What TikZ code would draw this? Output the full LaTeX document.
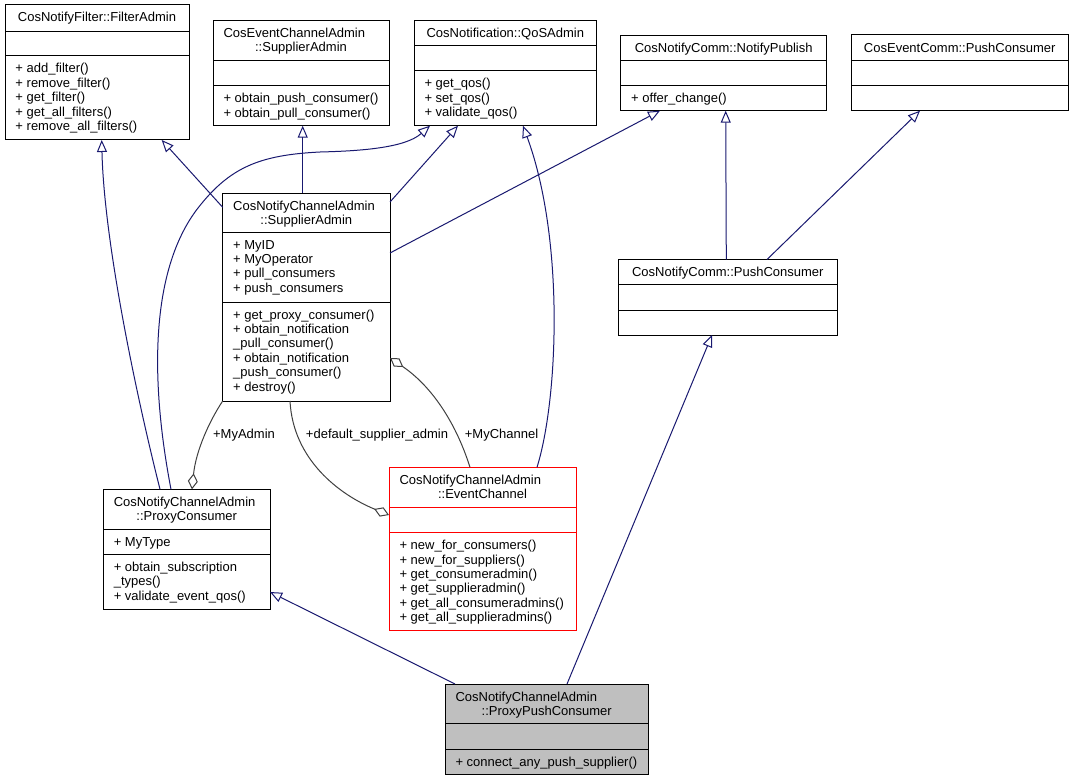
\documentclass[tikz,border=0pt]{standalone}
\usepackage{fontspec}
\setmainfont{Liberation Sans}
\usetikzlibrary{arrows.meta,calc}
\definecolor{inhcol}{HTML}{191970}
\definecolor{aggcol}{HTML}{404040}
\definecolor{selcol}{HTML}{BFBFBF}
\tikzset{
  cls/.style={draw, fill=white, line width=1pt, inner sep=0pt, outer sep=0pt},
  sepline/.style={line width=1pt},
  txt/.style={inner sep=0pt, outer sep=0pt, font=\fontsize{13}{14.4}\selectfont},
  inh/.style={draw=inhcol, line width=1pt, -{Triangle[open,length=12pt,width=10pt]}},
  agg/.style={draw=aggcol, line width=1pt, -{Diamond[open,length=16pt,width=10pt]}}
}
% #1 node opts, #2 name, #3 x1, #4 y1, #5 x2, #6 y2, #7 sep1, #8 sep2, #9 line colour
\newcommand\clsbox[9][]{%
  \node[cls,draw=#9,#1,minimum width={#5-#3},minimum height={#6-#4}] (#2) at ({(#3+#5)/2},{(#4+#6)/2}) {};
  \draw[sepline,draw=#9] (#2.west |- 0,#7) -- (#2.east |- 0,#7);
  \draw[sepline,draw=#9] (#2.west |- 0,#8) -- (#2.east |- 0,#8);
}
% #1 prefix, #2 x, #3 first baseline, #4 items
\newcommand\clsitems[4]{%
  \foreach \m [count=\i] in {#4} {\node[txt,anchor=base west] (#1-\i) at (#2,{#3+14.4*(\i-1)}) {\m};}
}
\begin{document}
\begin{tikzpicture}[x=1pt,y=-1pt]
\fill[white] (0,0) rectangle (1073,781);
\useasboundingbox (0,0) rectangle (1073,781);

% ---------- classes ----------
\clsbox{fa}{5}{5}{189}{140}{31.7}{56}{black}
\node[txt,anchor=base] (fa-t) at (97,22) {CosNotifyFilter::FilterAdmin};
\clsitems{fam}{15.5}{73}{+ add\_filter(), + remove\_filter(), + get\_filter(), + get\_all\_filters(), + remove\_all\_filters()}

\clsbox{cesa}{213}{20.7}{389}{125.7}{60.7}{85.7}{black}
\node[txt,anchor=base west] (cesa-t1) at (223.5,37.7) {CosEventChannelAdmin};
\node[txt,anchor=base] (cesa-t2) at (301,52) {::SupplierAdmin};
\clsitems{cesam}{223.5}{102.7}{+ obtain\_push\_consumer(), + obtain\_pull\_consumer()}

\clsbox{qos}{414}{20.7}{596.7}{125.7}{45.7}{70.7}{black}
\node[txt,anchor=base] (qos-t) at (505.3,37.7) {CosNotification::QoSAdmin};
\clsitems{qosm}{424.5}{87.7}{+ get\_qos(), + set\_qos(), + validate\_qos()}

\clsbox{np}{620.7}{35.7}{826.7}{110.7}{60.7}{85.7}{black}
\node[txt,anchor=base] (np-t) at (723.7,52.7) {CosNotifyComm::NotifyPublish};
\clsitems{npm}{631.2}{102.7}{+ offer\_change()}

\clsbox{cpc}{851}{35}{1068.3}{110.7}{60.7}{85.7}{black}
\node[txt,anchor=base] (cpc-t) at (959.7,52.5) {CosEventComm::PushConsumer};

\clsbox{sa}{222.7}{193}{390}{401}{232}{302}{black}
\node[txt,anchor=base west] (sa-t1) at (233.2,210) {CosNotifyChannelAdmin};
\node[txt,anchor=base] (sa-t2) at (306.3,224.4) {::SupplierAdmin};
\clsitems{saa}{233.2}{249}{+ MyID, + MyOperator, + pull\_consumers, + push\_consumers}
\clsitems{sam}{233.2}{319}{+ get\_proxy\_consumer(), + obtain\_notification, \_pull\_consumer(), + obtain\_notification, \_push\_consumer(), + destroy()}

\clsbox{npc}{618.3}{259.5}{837.3}{335}{284.3}{310}{black}
\node[txt,anchor=base] (npc-t) at (727.8,276.5) {CosNotifyComm::PushConsumer};

\clsbox{pc}{103.3}{489.3}{270}{609}{529}{554.3}{black}
\node[txt,anchor=base west] (pc-t1) at (113.8,506.3) {CosNotifyChannelAdmin};
\node[txt,anchor=base] (pc-t2) at (186.7,520.7) {::ProxyConsumer};
\clsitems{pca}{113.8}{546}{+ MyType}
\clsitems{pcm}{113.8}{571.3}{+ obtain\_subscription, \_types(), + validate\_event\_qos()}

\clsbox{ec}{389}{467.3}{576}{630.7}{507.3}{532.7}{red}
\node[txt,anchor=base west] (ec-t1) at (399.5,484.3) {CosNotifyChannelAdmin};
\node[txt,anchor=base] (ec-t2) at (482.5,498.7) {::EventChannel};
\clsitems{ecm}{399.5}{549.7}{+ new\_for\_consumers(), + new\_for\_suppliers(), + get\_consumeradmin(), + get\_supplieradmin(), + get\_all\_consumeradmins(), + get\_all\_supplieradmins()}

\clsbox[fill=selcol]{ppc}{445}{684}{648.3}{774.3}{723.3}{749}{black}
\node[txt,anchor=base west] (ppc-t1) at (455.5,701) {CosNotifyChannelAdmin};
\node[txt,anchor=base] (ppc-t2) at (546.7,715.4) {::ProxyPushConsumer};
\clsitems{ppcm}{455.5}{766}{+ connect\_any\_push\_supplier()}

% ---------- inheritance ----------
\draw[inh] ($(sa.north west)+(0,14.3)$) -- ($(fa.south west)+(156.7,0)$);
\draw[inh] ($(sa.north west)+(80,0)$) -- ($(cesa.south west)+(89.7,0)$);
\draw[inh] ($(sa.north east)+(0,9)$) -- ($(qos.south west)+(44,0)$);
\draw[inh] ($(sa.north east)+(0,60)$) -- ($(np.south west)+(39.3,0)$);
\draw[inh] ($(pc.north west)+(56.7,0)$) .. controls (135,390) and (104,240) .. ($(fa.south west)+(96.7,0)$);
\draw[inh] ($(pc.north west)+(67.7,0)$) .. controls (150,380) and (150,270) .. (198,208)
   .. controls (230,167) and (260,155) .. (320,152)
   .. controls (360,151) and (405,148) .. ($(qos.south west)+(16,0)$);
\draw[inh] ($(ec.north west)+(148,0)$) .. controls (558,400) and (565,240) .. ($(qos.south west)+(109,0)$);
\draw[inh] ($(npc.north west)+(108,0)$) -- ($(np.south west)+(105,0)$);
\draw[inh] ($(npc.north west)+(148.7,0)$) -- ($(cpc.south west)+(69,0)$);
\draw[inh] ($(ppc.north west)+(10,0)$) -- ($(pc.south east)+(0,-17)$);
\draw[inh] ($(ppc.north west)+(122,0)$) -- ($(npc.south west)+(93.7,0)$);

% ---------- aggregation ----------
\draw[agg] (sa.south west) .. controls (210,420) and (196,450) .. ($(pc.north west)+(88.7,0)$);
\draw[agg] ($(sa.south west)+(67.3,0)$) .. controls (293,460) and (340,495) .. ($(ec.north west)+(0,47.7)$);
\draw[agg] ($(ec.north west)+(81,0)$) .. controls (455,420) and (430,385) .. ($(sa.north east)+(0,165)$);

\node[txt,anchor=base] (lbl-myadmin) at (244,438) {+MyAdmin};
\node[txt,anchor=base] (lbl-dsa) at (377,438) {+default\_supplier\_admin};
\node[txt,anchor=base] (lbl-mychannel) at (501.5,438) {+MyChannel};
\end{tikzpicture}
\end{document}
